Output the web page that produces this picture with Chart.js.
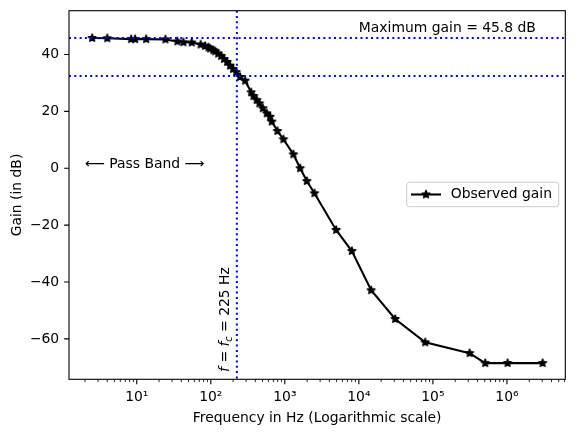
<!DOCTYPE html>
<html><head><meta charset="utf-8">
<script src="https://cdn.jsdelivr.net/npm/chart.js@4"></script>
<style>html,body{margin:0;padding:0;background:#fff;overflow:hidden}</style>
</head><body>
<canvas id="c" width="574" height="437"></canvas>
<script>
// ---- data ----
const FREQ_HZ = [2.5, 4, 8.4, 9.5, 13.4, 24.4, 35.4, 42.7, 55.3, 73, 84, 93, 98, 108, 115, 126, 138, 151, 166, 182, 200, 220, 249, 291, 351, 377, 417, 454, 505, 571, 632, 667, 794, 957, 1306, 1610, 1983, 2512, 4930, 8035, 14660, 30900, 78700, 312800, 509000, 1020000, 3030000];
const GAIN_DB = [45.8, 45.7, 45.4, 45.4, 45.4, 45.3, 44.6, 44.3, 44.2, 43.5, 43.0, 42.5, 42.1, 41.5, 41.1, 40.3, 39.5, 38.4, 37.4, 36.1, 34.9, 33.8, 32.1, 30.8, 26.7, 25.4, 24.0, 22.8, 21.1, 19.3, 18.1, 16.4, 13.1, 10.2, 4.9, 0, -4.5, -8.8, -21.7, -29.1, -42.9, -53.0, -61.2, -65.0, -68.5, -68.5, -68.5];
const X_TICKS = [10, 100, 1000, 10000, 100000, 1000000];
const Y_TICKS = [-60, -40, -20, 0, 20, 40];
const MAX_GAIN_DB = 45.8;
const CUTOFF_GAIN_DB = 32.4;
const CUTOFF_HZ = 225;
const SERIES_LABEL = 'Observed gain';
const MAX_TEXT = 'Maximum gain = 45.8 dB';
const PASS_TEXT = '\u27F5 Pass Band \u27F6';

// ---- styling ----
const FONT = '"DejaVu Sans"';
const FS = 13.9;
Chart.defaults.font.family = FONT;
Chart.defaults.font.size = FS;
Chart.defaults.color = '#000';

const SUP = {'0':'\u2070','1':'\u00B9','2':'\u00B2','3':'\u00B3','4':'\u2074','5':'\u2075','6':'\u2076','7':'\u2077','8':'\u2078','9':'\u2079'};
function supLabel(v){ const e = Math.round(Math.log10(v)); return '10' + String(e).split('').map(c=>SUP[c]).join(''); }

function makeStar(){
  const c = document.createElement('canvas'); c.width = 14; c.height = 14;
  const g = c.getContext('2d');
  const R = 4.4, r = R * 0.381966;
  g.beginPath();
  for (let i = 0; i < 10; i++) {
    const a = -Math.PI/2 + i * Math.PI/5;
    const rr = i % 2 ? r : R;
    const px = 7 + rr * Math.cos(a), py = 7 + rr * Math.sin(a);
    i ? g.lineTo(px, py) : g.moveTo(px, py);
  }
  g.closePath();
  g.fillStyle = '#000'; g.fill();
  g.lineWidth = 1.39; g.lineJoin = 'bevel'; g.strokeStyle = '#000'; g.stroke();
  return c;
}
const STAR = makeStar();

const decor = {
  id: 'decor',
  afterDatasetsDraw(chart){
    const {ctx, chartArea: a, scales: {x, y}} = chart;
    ctx.save();
    // reference lines (dotted blue)
    ctx.strokeStyle = '#0000ff'; ctx.lineWidth = 2; ctx.setLineDash([2, 3.3]); ctx.lineCap = 'butt';
    [MAX_GAIN_DB, CUTOFF_GAIN_DB].forEach(v => {
      const py = y.getPixelForValue(v);
      ctx.beginPath(); ctx.moveTo(a.left, py); ctx.lineTo(a.right, py); ctx.stroke();
    });
    const pxc = x.getPixelForValue(CUTOFF_HZ);
    ctx.beginPath(); ctx.moveTo(pxc, a.top); ctx.lineTo(pxc, a.bottom); ctx.stroke();
    ctx.setLineDash([]);

    // spines
    ctx.strokeStyle = '#000'; ctx.lineWidth = 1.1;
    ctx.strokeRect(a.left, a.top, a.right - a.left, a.bottom - a.top);

    // tick marks
    ctx.beginPath(); ctx.lineWidth = 1.1;
    X_TICKS.forEach(v => { const p = x.getPixelForValue(v); ctx.moveTo(p, a.bottom); ctx.lineTo(p, a.bottom + 4.86); });
    Y_TICKS.forEach(v => { const p = y.getPixelForValue(v); ctx.moveTo(a.left, p); ctx.lineTo(a.left - 4.86, p); });
    ctx.stroke();
    ctx.beginPath(); ctx.lineWidth = 0.83;
    for (let e = 0; e <= 6; e++) for (let k = 2; k <= 9; k++) {
      const v = k * Math.pow(10, e);
      if (v < x.min || v > x.max) continue;
      const p = x.getPixelForValue(v); ctx.moveTo(p, a.bottom); ctx.lineTo(p, a.bottom + 2.78);
    }
    ctx.stroke();

    // annotations
    ctx.fillStyle = '#000'; ctx.textBaseline = 'alphabetic'; ctx.textAlign = 'left';
    ctx.font = FS + 'px ' + FONT;
    ctx.fillText(MAX_TEXT, x.getPixelForValue(1e4), y.getPixelForValue(48));
    ctx.fillText(PASS_TEXT, x.getPixelForValue(2), y.getPixelForValue(0));

    // rotated cutoff label: f = f_c = 225 Hz
    ctx.save();
    ctx.translate(x.getPixelForValue(174), y.getPixelForValue(-71.6));
    ctx.rotate(-Math.PI/2);
    let tx = 0;
    const it = 'italic ' + FS + 'px ' + FONT, rm = FS + 'px ' + FONT, sub = 'italic ' + (FS*0.7).toFixed(2) + 'px ' + FONT;
    const seg = (t, f, dy) => { ctx.font = f; ctx.fillText(t, tx, dy || 0); tx += ctx.measureText(t).width; };
    seg('f', it); seg(' = ', rm); seg('f', it); seg('c', sub, FS*0.22); seg(' = 225 Hz', rm);
    ctx.restore();

    // legend
    const lx0 = 406.7, ly0 = 182.3, lx1 = 558.7, ly1 = 206.7, rad = 2.8;
    ctx.beginPath();
    ctx.moveTo(lx0 + rad, ly0); ctx.lineTo(lx1 - rad, ly0); ctx.arcTo(lx1, ly0, lx1, ly0 + rad, rad);
    ctx.lineTo(lx1, ly1 - rad); ctx.arcTo(lx1, ly1, lx1 - rad, ly1, rad);
    ctx.lineTo(lx0 + rad, ly1); ctx.arcTo(lx0, ly1, lx0, ly1 - rad, rad);
    ctx.lineTo(lx0, ly0 + rad); ctx.arcTo(lx0, ly0, lx0 + rad, ly0, rad);
    ctx.closePath();
    ctx.fillStyle = 'rgba(255,255,255,0.8)'; ctx.fill();
    ctx.strokeStyle = '#cccccc'; ctx.lineWidth = 1; ctx.stroke();
    const lyc = (ly0 + ly1) / 2;
    ctx.beginPath(); ctx.strokeStyle = '#000'; ctx.lineWidth = 2.08;
    ctx.moveTo(411, lyc); ctx.lineTo(441, lyc); ctx.stroke();
    ctx.drawImage(STAR, 426 - 7, lyc - 7);
    ctx.fillStyle = '#000'; ctx.font = FS + 'px ' + FONT; ctx.textBaseline = 'middle';
    ctx.fillText(SERIES_LABEL, 450.7, lyc);
    ctx.restore();
  }
};

new Chart(document.getElementById('c'), {
  type: 'line',
  data: {
    datasets: [{
      label: SERIES_LABEL,
      data: FREQ_HZ.map((f, i) => ({x: f, y: GAIN_DB[i]})),
      borderColor: '#000', backgroundColor: '#000', borderWidth: 2.08,
      pointStyle: STAR, pointRadius: 5, pointHoverRadius: 5, tension: 0, fill: false
    }]
  },
  options: {
    responsive: false, animation: false,
    layout: {padding: {left: 0, right: 8.7, top: 10.7, bottom: 0}},
    plugins: {legend: {display: false}, tooltip: {enabled: false}},
    events: [],
    scales: {
      x: {
        type: 'logarithmic', min: 1.216, max: 6.14e6,
        grid: {display: false, drawTicks: false}, border: {display: false},
        afterBuildTicks(s){ s.ticks = X_TICKS.map(v => ({value: v})); },
        afterFit(s){ s.height = 57.7; s.paddingLeft = 0; s.paddingRight = 0; s.paddingTop = 0; s.paddingBottom = 0; },
        ticks: {padding: 9.4, maxRotation: 0, autoSkip: false, callback: v => supLabel(v), font: {size: FS}},
        title: {display: true, text: 'Frequency in Hz (Logarithmic scale)', font: {size: FS}, padding: {top: 0, bottom: 10.7}}
      },
      y: {
        type: 'linear', min: -74.2, max: 55.4,
        grid: {display: false, drawTicks: false}, border: {display: false},
        afterBuildTicks(s){ s.ticks = Y_TICKS.map(v => ({value: v})); },
        afterFit(s){ s.width = 69; s.paddingLeft = 0; s.paddingRight = 0; s.paddingTop = 0; s.paddingBottom = 0; },
        ticks: {padding: 9.8, callback: v => (v < 0 ? '\u2212' + Math.abs(v) : String(v)), font: {size: FS}},
        title: {display: true, text: 'Gain (in dB)', font: {size: FS}, padding: {top: 8.7, bottom: 0}}
      }
    }
  },
  plugins: [decor]
});
</script>
</body></html>
